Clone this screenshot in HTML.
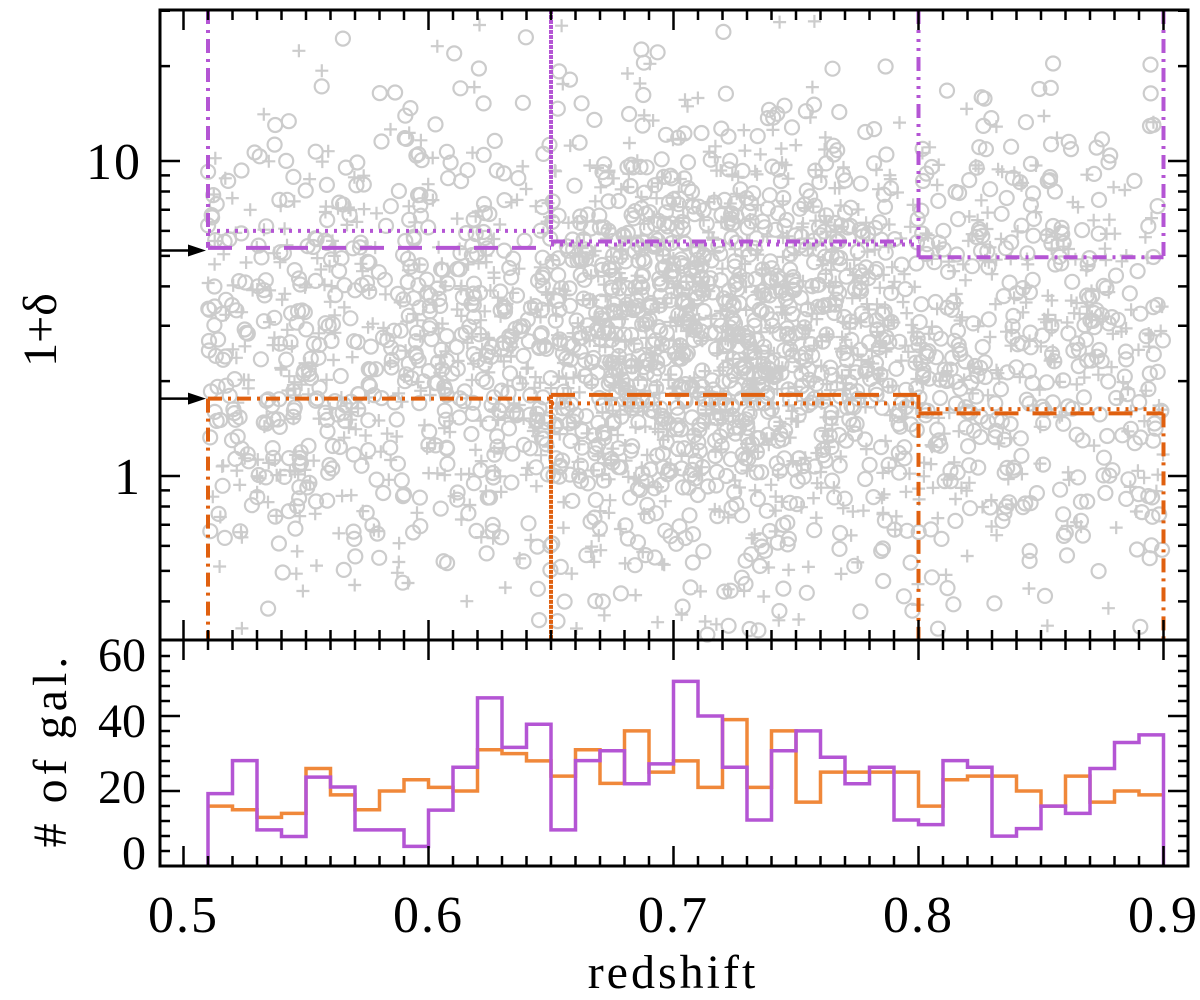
<!DOCTYPE html>
<html><head><meta charset="utf-8"><style>
html,body{margin:0;padding:0;background:#fff;}
svg{display:block;font-family:"Liberation Serif",serif;}
</style></head><body>
<svg id="chart" width="1200" height="1000" viewBox="0 0 1200 1000" xmlns="http://www.w3.org/2000/svg">
<g id="scatter"></g>
<g id="boxes"></g>
<g id="hist"></g>
<g id="axes"></g>
<text x="673" y="988" font-size="48" text-anchor="middle" letter-spacing="3">redshift</text>
<text transform="translate(56,330) rotate(-90)" font-size="48" text-anchor="middle">1+δ</text>
<text transform="translate(66,750) rotate(-90)" font-size="48" text-anchor="middle" letter-spacing="4">#&#160;of&#160;gal.</text>
</svg>
<script>
// ---- data ----
const binStart = 0.51, binWidth = 0.01;
const histPurple = [18,28,7,5,23,20,7,7,2,13,26,47,32,39,7,28,31,21,27,52,41.5,26,10,31,37,29,21,26,10,8.6,28,26,5.1,7.4,14.2,12,25.6,33.5,35.8];
const histOrange = [14.2,13.1,10.8,12,25.6,17.6,13.1,18.8,22.2,19.9,18.8,31.3,30.1,27.9,23.3,31.3,21.1,37,24.5,27.9,19.9,40.4,19.9,37,15.4,24.5,24.5,24.5,24.5,14.2,22.2,23.3,23.3,18.8,14.2,23.3,15.4,18.8,17.6];
const xTicks = [0.5,0.6,0.7,0.8,0.9];
const xTickLabels = ["0.5","0.6","0.7","0.8","0.9"];
const yTopTicks = [1,10];
const yTopTickLabels = ["1","10"];
const yBotTicks = [0,20,40,60];
const yBotTickLabels = ["0","20","40","60"];
const zEdges = [0.51,0.65,0.80,0.90];
const purpleLevels = [5.3,5.55,4.95];
const purpleLevels2 = [6.0,5.5,4.95];
const orangeLevels = [1.76,1.81,1.63];
const orangeLevels2 = [1.76,1.70,1.58];
const arrowLevels = [5.2,1.76];

// ---- scales ----
const L=160,R=1188,T=10,B=640,B2=866;
const X = z => 183.5 + (z-0.5)*2450;
const YT = v => 476 - Math.log10(v)*315;
const YB = v => 853 - v*3.3;
const NS='http://www.w3.org/2000/svg';
function mk(tag, attrs, parent){const e=document.createElementNS(NS,tag);for(const k in attrs)e.setAttribute(k,attrs[k]);parent.appendChild(e);return e;}

// ---- scatter (background texture, seeded) ----
const sc=document.getElementById('scatter');
let seed=12345;function rnd(){seed=(seed*1664525+1013904223)%4294967296;return seed/4294967296;}
function gauss(){return Math.sqrt(-2*Math.log(rnd()+1e-9))*Math.cos(2*Math.PI*rnd());}
let circ='',plus='';
for(let i=0;i<2900;i++){
  let z = rnd()<0.35 ? 0.71+gauss()*0.05 : 0.51+rnd()*0.39;
  if(z<0.508||z>0.902) continue;
  let lv = 0.42+gauss()*0.38;
  const y=YT(Math.pow(10,lv)), x=X(z);
  if(y<T+4||y>B-4) continue;
  if(rnd()<0.6) circ+=`M${(x-7).toFixed(1)},${y.toFixed(1)}a7,7 0 1,0 14,0a7,7 0 1,0 -14,0`;
  else plus+=`M${(x-6.5).toFixed(1)},${y.toFixed(1)}h13M${x.toFixed(1)},${(y-6.5).toFixed(1)}v13`;
}
const pc=mk('path',{d:circ,fill:'none',stroke:'#cccccc','stroke-width':2.2},sc);


const pp=mk('path',{d:plus,fill:'none',stroke:'#cccccc','stroke-width':2.2},sc);



// ---- boxes ----
const bx=document.getElementById('boxes');
const DASH='24,14', DOT='3,6', DD='14,6,3,6', D3='14,6,3,6,3,6,3,6';
const PUR='#b455d4', ORA='#e0600f';
function ln(x1,y1,x2,y2,col,dash,name){const e=mk('line',{x1,y1,x2,y2,stroke:col,'stroke-width':4,'stroke-dasharray':dash},bx);
  
  }
const pY=purpleLevels.map(YT), pY2=purpleLevels2.map(YT), oY=orangeLevels.map(YT), oY2=orangeLevels2.map(YT);
// purple
ln(X(zEdges[0]),T,X(zEdges[0]),pY[0],PUR,DD,'purple-box1-left');
ln(X(zEdges[0]),pY2[0],X(zEdges[1]),pY2[0],PUR,DOT,'purple-box1-dotted');
ln(X(zEdges[0]),pY[0],X(zEdges[1]),pY[0],PUR,DASH,'purple-box1-dashed');
ln(X(zEdges[1]),T,X(zEdges[1]),pY[1],PUR,'4,1','purple-box2-left');
ln(X(zEdges[1]),pY[1],X(zEdges[2]),pY[1],PUR,D3,'purple-box2-top');
ln(X(zEdges[1]),pY[1]+3,X(zEdges[2]),pY[1]+3,PUR,DOT,'purple-box2-dotted');
ln(X(zEdges[2]),T,X(zEdges[2]),pY[2],PUR,D3,'purple-box3-left');
ln(X(zEdges[2]),pY[2],X(zEdges[3]),pY[2],PUR,DD,'purple-box3-top');
ln(X(zEdges[3]),T,X(zEdges[3]),pY[2],PUR,DD,'purple-box3-right');
// orange
ln(X(zEdges[0]),oY[0],X(zEdges[0]),B,ORA,DD,'orange-box1-left');
ln(X(zEdges[0]),oY[0],X(zEdges[1]),oY[0],ORA,DD,'orange-box1-top');
ln(X(zEdges[1]),oY[1],X(zEdges[1]),B,ORA,'4,1','orange-box2-left');
ln(X(zEdges[1]),oY[1],X(zEdges[2]),oY[1],ORA,DASH,'orange-box2-dashed');
ln(X(zEdges[1]),oY2[1],X(zEdges[2]),oY2[1],ORA,DOT,'orange-box2-dotted');
ln(X(zEdges[2]),oY[1],X(zEdges[2]),B,ORA,DD,'orange-box3-left');
ln(X(zEdges[2]),oY[2],X(zEdges[3]),oY[2],ORA,DOT,'orange-box3-dotted');
ln(X(zEdges[2]),oY2[2],X(zEdges[3]),oY2[2],ORA,DASH,'orange-box3-dashed');
ln(X(zEdges[3]),oY2[2],X(zEdges[3]),B,ORA,DD,'orange-box3-right');
// arrows
arrowLevels.forEach((v,i)=>{const y=YT(v);
  const a=mk('line',{x1:L,y1:y,x2:193,y2:y,stroke:'#000','stroke-width':2.5},bx);
  
  
  const h=mk('path',{d:`M${X(zEdges[0])-2},${y}L188,${y-6}L188,${y+6}Z`,fill:'#000'},bx);
  
  
});

// ---- histogram ----
const hg=document.getElementById('hist');
function stepPath(vals,dropEnds){let d='';const x0=X(binStart);
  d+= dropEnds?`M${x0},${B2}L${x0},${YB(vals[0])}`:`M${x0},${YB(vals[0])}`;
  vals.forEach((v,i)=>{const xa=X(binStart+i*binWidth),xb=X(binStart+(i+1)*binWidth);d+=`L${xa},${YB(v)}L${xb},${YB(v)}`;});
  if(dropEnds) d+=`L${X(binStart+vals.length*binWidth)},${B2}`;
  return d;}
const ho=mk('path',{d:stepPath(histOrange,false),fill:'none',stroke:'#f0883a','stroke-width':3.5},hg);


const hp=mk('path',{d:stepPath(histPurple,true),fill:'none',stroke:'#b455d4','stroke-width':3.5},hg);



// ---- axes ----
const ax=document.getElementById('axes');
const fr1=mk('rect',{x:L,y:T,width:R-L,height:B-T,fill:'none',stroke:'#000','stroke-width':3},ax);


const fr2=mk('rect',{x:L,y:B,width:R-L,height:B2-B,fill:'none',stroke:'#000','stroke-width':3},ax);


let tk='';
for(let k=49;k<=91;k++){const x=X(k/100);if(x<L||x>R)continue;const len=(k%10===0)?20:10;
  tk+=`M${x},${T}v${len}M${x},${B}v${-len}M${x},${B}v${len}M${x},${B2}v${-len}`;}
for(const dec of [0.1,1,10]){for(let m=1;m<=9;m++){const v=dec*m;const y=YT(v);if(y<T||y>B)continue;const len=(m===1)?20:10;
  tk+=`M${L},${y}h${len}M${R},${y}h${-len}`;}}
for(let y=656;y<=853;y+=15){const len=(Math.abs(y-716)<1||Math.abs(y-791)<1)?20:10;tk+=`M${L},${y}h${len}M${R},${y}h${-len}`;}
const tkp=mk('path',{d:tk,stroke:'#000','stroke-width':2.5,fill:'none'},ax);


xTicks.forEach((v,i)=>{const t=mk('text',{x:X(v),y:932,'font-size':52,'text-anchor':'middle','letter-spacing':2},ax);t.textContent=xTickLabels[i];
  
  });
yTopTicks.forEach((v,i)=>{const t=mk('text',{x:142,y:YT(v)+18,'font-size':52,'text-anchor':'end','letter-spacing':2},ax);t.textContent=yTopTickLabels[i];
  
  });
yBotTicks.forEach((v,i)=>{const t=mk('text',{x:146,y:YB(v)+16,'font-size':48,'text-anchor':'end'},ax);t.textContent=yBotTickLabels[i];
  
  });
</script>
</body></html>
